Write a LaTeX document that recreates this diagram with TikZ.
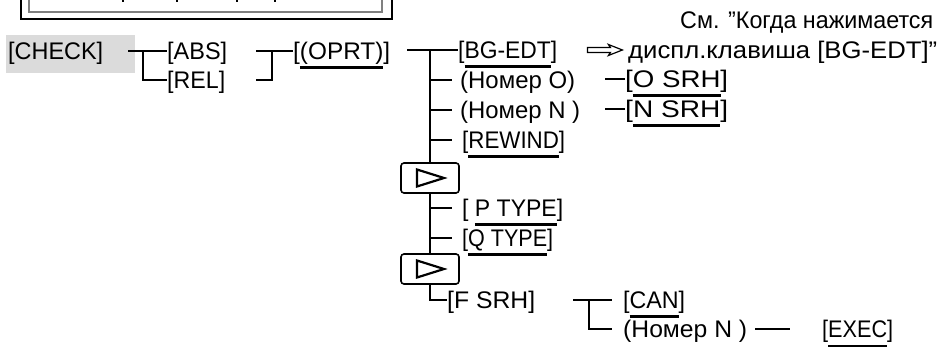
\documentclass[tikz,border=0pt]{standalone}
\usepackage{graphicx}
\usepackage{fontspec}
\setmainfont{Liberation Sans}
\newcommand\ulx[1]{\setbox0\hbox{#1}\rlap{\rule[-10pt]{\wd0}{3pt}}\box0}
\newcommand\fitw[2]{\setbox1\hbox{#2}\edef\fitwd{\the\wd1}\pgfmathsetmacro\fitfac{#1/\fitwd}\scalebox{\fitfac}[1]{\box1}}
\begin{document}
\begin{tikzpicture}[x=1pt,y=-1pt,
  lbl/.style={inner sep=0pt, anchor=west, text height=17pt, text depth=0pt, font=\fontsize{24}{29}\selectfont},
  tree/.style={line width=1.8pt},
  keybox/.style={draw, rounded corners=3pt, line width=1.6pt, minimum width=58pt, minimum height=30pt, inner sep=0pt},
  tri/.style={line width=2.2pt, line join=miter}]
\useasboundingbox (0,0) rectangle (939,347);
% top box (cut off)
\draw[line width=1.8pt] (21,-10) |- (392,19) -- (392,-10);
\draw[gray, line width=1.2pt] (29,-10) |- (382,12) -- (382,-10);
\foreach \x in {123,177,237,275} \draw[line width=1.2pt] (\x,-1) -- (\x,2.5);
% gray highlight
\fill[gray!28] (6,35) rectangle (135,73);
% nodes
\node[lbl] (check) at (8,51) {\fitw{95}{[CHECK]}};
\node[lbl] (abs) at (167,51) {\fitw{60}{[ABS]}};
\node[lbl] (rel) at (167,80) {\fitw{58}{[REL]}};
\node[lbl] (oprt) at (293,51) {\fitw{97}{[\ulx{(OPRT)}]}};
\node[lbl] (bg) at (458,50) {\fitw{99}{[\ulx{BG-EDT}]}};
\node[lbl] (no) at (460,80) {\fitw{115}{(Номер O)}};
\node[lbl] (nn) at (460,110) {\fitw{120}{(Номер N )}};
\node[lbl] (rew) at (462,140) {\fitw{103}{[\ulx{REWIND}]}};
\node[keybox] (k1) at (430,178) {};
\node[lbl] (pt) at (462,208) {\fitw{101}{[ \ulx{P TYPE} ]}};
\node[lbl] (qt) at (462,238) {\fitw{91}{[\ulx{Q TYPE}]}};
\node[keybox] (k2) at (430,269) {};
\node[lbl] (fs) at (447,300) {\fitw{88}{[F SRH]}};
\node[lbl] (osrh) at (625,79) {\fitw{103}{[\ulx{O SRH}]}};
\node[lbl] (nsrh) at (625,109) {\fitw{103}{[\ulx{N SRH}]}};
\node[lbl] (can) at (623,300) {\fitw{62}{[\ulx{CAN}]}};
\node[lbl] (nn2) at (623,329) {\fitw{124}{(Номер N )}};
\node[lbl] (exec) at (822,329) {\fitw{71}{[\ulx{EXEC}]}};
\node[lbl] (note1) at (680,20) {\fitw{253}{См. ”Когда нажимается}};
\node[lbl] (note2) at (628,50) {\fitw{309}{диспл.клавиша [BG-EDT]”}};
% triangles
\foreach \k in {k1,k2}
  \draw[tri] ([shift={(-13,-8.5)}]\k.center) -- ([shift={(14,0)}]\k.center) -- ([shift={(-13,8.5)}]\k.center) -- cycle;
% connectors
\coordinate (chk) at (128,51);
\draw[tree] (chk) -- (abs.west);
\draw[tree] (chk) ++(15,0) |- (rel.west);
\coordinate (ar) at (256,51);
\draw[tree] (ar) -- (oprt.west);
\draw[tree] (ar |- rel.west) -- ++(16,0) |- (oprt.west);
\coordinate (op) at (407,50);
\coordinate (tr) at (430,50);
\draw[tree] (op) -- (bg.west);
\draw[tree] (tr) -- (k1.north);
\draw[tree] (tr |- no.west) -- ([xshift=-8pt]no.west);
\draw[tree] (tr |- nn.west) -- ([xshift=-8pt]nn.west);
\draw[tree] (tr |- rew.west) -- ([xshift=-10pt]rew.west);
\draw[tree] (k1.south) -- (k2.north);
\draw[tree] (tr |- pt.west) -- ([xshift=-10pt]pt.west);
\draw[tree] (tr |- qt.west) -- ([xshift=-10pt]qt.west);
\draw[tree] (k2.south) |- (fs.west);
\draw[tree] ([xshift=-20pt]osrh.west) -- (osrh.west);
\draw[tree] ([xshift=-20pt]nsrh.west) -- (nsrh.west);
\coordinate (fsr) at (573,300);
\draw[tree] (fsr) -- ([xshift=-11pt]can.west);
\draw[tree] (fsr) ++(16,0) |- ([xshift=-11pt]nn2.west);
\draw[tree] ([xshift=8pt]nn2.east) -- ([xshift=-32pt]exec.west);
% hollow double arrow
\draw[line width=1.2pt, line join=miter] ([shift={(30,-2.5)}]bg.east) -- ++(23,0) -- ++(-2,-3) -- ++(14,5.5) -- ++(-14,5.5) -- ++(2,-3) -- ++(-23,0) -- cycle;
\end{tikzpicture}
\end{document}
